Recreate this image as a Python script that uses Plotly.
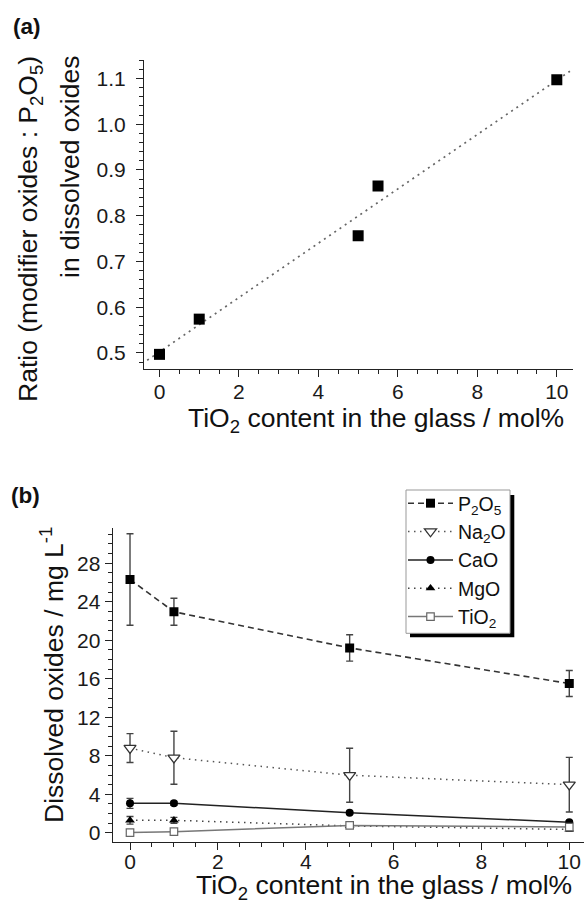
import numpy as np
import plotly.graph_objects as go

FONT = "Liberation Sans, Arial, sans-serif"
W, H = 584, 905
INK = "#111111"

# ---- (a) modifier-oxide : P2O5 ratio vs TiO2 content ----
tio2_a = [0, 1, 5, 5.5, 10]
ratio = [0.497, 0.574, 0.756, 0.865, 1.097]
fit_span = [-0.31, 10.33]

# ---- (b) dissolved oxides vs TiO2 content ----
tio2_b = [0, 1, 5, 10]
p2o5 = [26.3, 22.95, 19.2, 15.5]
p2o5_err = [4.75, 1.4, 1.37, 1.35]
na2o = [8.8, 7.8, 5.98, 5.0]
na2o_err = [1.5, 2.75, 2.8, 2.83]
cao = [3.06, 3.06, 2.09, 1.1]
cao_err = [0.52, 0.2, 0.15, 0.15]
mgo = [1.3, 1.3, 0.72, 0.35]
mgo_err = [0.4, 0.3, 0.2, 0.2]
tio2_diss = [0.03, 0.12, 0.77, 0.6]
tio2_err = [0.1, 0.1, 0.25, 0.2]


def px(x):
    return x / W


def py(y):
    return 1 - y / H


fig = go.Figure()

# linear trend through the ratio points
slope, icpt = np.polyfit(tio2_a, ratio, 1)
fit_x = np.array(fit_span)
fig.add_trace(go.Scatter(
    x=fit_x, y=slope * fit_x + icpt, mode="lines",
    line=dict(color="#666666", width=1.7, dash="2px,4.3px"),
    showlegend=False, xaxis="x", yaxis="y", hoverinfo="skip"))
fig.add_trace(go.Scatter(
    x=tio2_a, y=ratio, mode="markers",
    marker=dict(symbol="square", size=11, color="black", line=dict(width=0)),
    showlegend=False, xaxis="x", yaxis="y"))

ERR = dict(type="data", color="#444444", thickness=1.4, width=3.5)

series = [
    ("P<sub>2</sub>O<sub>5</sub>", p2o5, p2o5_err,
     dict(color="#333333", width=1.6, dash="6px,4px"),
     dict(symbol="square", size=9, color="black", line=dict(width=0))),
    ("Na<sub>2</sub>O", na2o, na2o_err,
     dict(color="#555555", width=1.5, dash="1.5px,4.5px"),
     dict(symbol="triangle-down", size=10.5, color="white",
          line=dict(color="#333333", width=1.3))),
    ("CaO", cao, cao_err,
     dict(color="#222222", width=1.5),
     dict(symbol="circle", size=8, color="black", line=dict(width=0))),
    ("MgO", mgo, mgo_err,
     dict(color="#444444", width=1.5, dash="1.5px,4.5px"),
     dict(symbol="triangle-up", size=8.5, color="black", line=dict(width=0))),
    ("TiO<sub>2</sub>", tio2_diss, tio2_err,
     dict(color="#777777", width=1.5),
     dict(symbol="square", size=7.5, color="white",
          line=dict(color="#666666", width=1.2))),
]

for i, (name, yv, ev, ln, mk) in enumerate(series):
    fig.add_trace(go.Scatter(
        x=tio2_b, y=yv, name=name, mode="lines+markers",
        line=ln, marker=mk, error_y=dict(array=ev, **ERR),
        legendgroup=f"g{i}", xaxis="x2", yaxis="y2"))

TICK = 21
axis_common = dict(
    showline=True, linecolor="#222222", linewidth=1.2,
    ticks="outside", ticklen=7, tickwidth=1.2, tickcolor="#222222",
    showgrid=False, zeroline=False,
    tickfont=dict(family=FONT, size=TICK, color="#1a1a1a"),
)

fig.update_layout(
    width=W, height=H,
    margin=dict(l=0, r=0, t=0, b=0, autoexpand=False),
    paper_bgcolor="white", plot_bgcolor="white",
    font=dict(family=FONT, color=INK),
    xaxis=dict(domain=[px(144), px(572.7)], range=[-0.39, 10.4], anchor="y",
               tick0=0, dtick=2, ticklabelstandoff=-3,
               minor=dict(dtick=0.5, ticks="outside", ticklen=4,
                          tickwidth=1, tickcolor="#222222"),
               **axis_common),
    yaxis=dict(domain=[py(369), py(60)], range=[0.465, 1.1404], anchor="x",
               tick0=0.5, dtick=0.1, tickformat=".1f", ticklabelstandoff=6,
               minor=dict(dtick=0.02, ticks="outside", ticklen=3.5,
                          tickwidth=1, tickcolor="#222222"),
               **axis_common),
    xaxis2=dict(domain=[px(112.7), 1.0], range=[-0.394, 10.335], anchor="y2",
                tick0=0, dtick=2, ticklabelstandoff=-6,
                minor=dict(dtick=0.5, ticks="outside", ticklen=4,
                           tickwidth=1, tickcolor="#222222"),
                **axis_common),
    yaxis2=dict(domain=[py(841.5), py(528.3)], range=[-0.9, 31.62], anchor="x2",
                tick0=0, dtick=4,
                minor=dict(dtick=1, ticks="outside", ticklen=3.5,
                           tickwidth=1, tickcolor="#222222"),
                **axis_common),
    legend=dict(
        x=px(403), y=py(484), xanchor="left", yanchor="top",
        bgcolor="rgba(0,0,0,0)", borderwidth=0,
        font=dict(family=FONT, size=19.5, color=INK),
        itemwidth=45, tracegroupgap=0, traceorder="grouped",
    ),
    showlegend=True,
)

# legend frame with drop shadow
fig.add_shape(type="rect", xref="paper", yref="paper",
              x0=px(410), x1=px(514.3), y0=py(637.3), y1=py(495),
              fillcolor="black", line=dict(width=0), layer="above")
fig.add_shape(type="rect", xref="paper", yref="paper",
              x0=px(406), x1=px(510), y0=py(633.3), y1=py(490),
              fillcolor="white", line=dict(color="#999999", width=1),
              layer="above")

TITLE = 26.5
annos = [
    dict(text="<b>(a)</b>", x=px(11), y=py(27), xanchor="left", yanchor="middle",
         font=dict(size=22.5)),
    dict(text="<b>(b)</b>", x=px(9), y=py(496), xanchor="left", yanchor="middle",
         font=dict(size=22.5)),
    dict(text="TiO<sub>2</sub> content in the glass / mol%", x=px(186),
         y=py(420), xanchor="left", yanchor="middle", font=dict(size=TITLE)),
    dict(text="TiO<sub>2</sub> content in the glass / mol%", x=px(193.5),
         y=py(886.5), xanchor="left", yanchor="middle", font=dict(size=TITLE)),
    dict(text="Ratio (modifier oxides : P<sub>2</sub>O<sub>5</sub>)", x=px(30),
         y=py(54), xanchor="center", yanchor="top", textangle=-90,
         font=dict(size=TITLE)),
    dict(text="in dissolved oxides", x=px(70), y=py(54), xanchor="center",
         yanchor="top", textangle=-90, font=dict(size=TITLE)),
    dict(text="Dissolved oxides / mg L<sup>-1</sup>", x=px(52), y=py(825),
         xanchor="center", yanchor="bottom", textangle=-90,
         font=dict(size=TITLE)),
]
for a in annos:
    a.setdefault("font", {})
    a["font"] = dict(family=FONT, color=INK, **a["font"])
    fig.add_annotation(xref="paper", yref="paper", showarrow=False, **a)

fig.write_html("out.html")
